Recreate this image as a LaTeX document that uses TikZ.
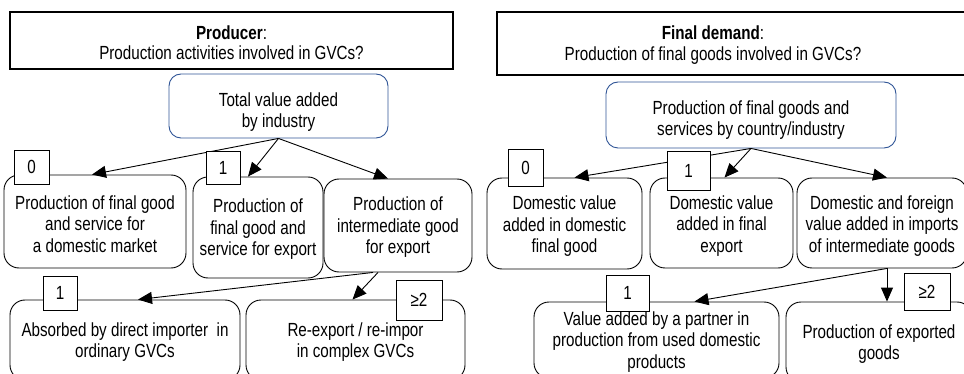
\documentclass[tikz,border=0pt]{standalone}
\usepackage{fontspec}
\setmainfont{Liberation Sans}[FakeStretch=0.8]
\usetikzlibrary{arrows.meta,calc}
\definecolor{rootblue}{RGB}{47,84,150}
\newcommand{\pushdown}[1]{\rule{0pt}{#1}}
\begin{document}
\begin{tikzpicture}[x=1pt,y=-1pt,
  font=\fontsize{19}{21.5}\selectfont,
  titlebox/.style={draw, line width=1.3pt, inner sep=0pt, align=center},
  mainbox/.style={draw, line width=0.9pt, rounded corners=15pt, align=center, inner sep=0pt},
  rootbox/.style={draw=rootblue, line width=0.9pt, rounded corners=12pt, align=center, inner sep=0pt},
  tagbox/.style={draw, fill=white, line width=0.9pt, inner sep=0pt},
  flow/.style={line width=0.9pt, -{Triangle[length=14pt,width=12pt]}}]
\useasboundingbox (0,0) rectangle (964,374);
\clip (0,0) rectangle (964,374);

% ---------- left panel ----------
\node[titlebox, minimum width=443pt, minimum height=57pt] (ptitle) at (231.5,40.5)
  {\pushdown{17.5pt}\textbf{Producer}:\\[-1.5pt]Production activities involved in GVCs?};
\node[rootbox, minimum width=219pt, minimum height=64pt] (tva) at (278.5,106)
  {\pushdown{25.5pt}Total value added\\by industry};
\node[mainbox, minimum width=182pt, minimum height=93pt] (pdom) at (95,221.5)
  {\pushdown{18.5pt}Production of final good\\and service for\\a domestic market};
\node[mainbox, minimum width=130pt, minimum height=101pt] (pexp) at (258,227.5)
  {\pushdown{17.5pt}Production of\\final good and\\service for export};
\node[mainbox, minimum width=148pt, minimum height=93pt] (pint) at (398,225.5)
  {\pushdown{17.5pt}Production of\\intermediate good\\for export};
\node[mainbox, minimum width=230pt, minimum height=80pt] (pabs) at (125,340)
  {\pushdown{17.5pt}Absorbed by direct importer\ \ in\\ordinary GVCs};
\node[mainbox, minimum width=219pt, minimum height=80pt] (prex) at (355.5,340)
  {\pushdown{17.5pt}Re-export / re-impor\\in complex GVCs};

\draw[flow] (tva.south) -- ([xshift=-3pt]pdom.north);
\draw[flow] (tva.south) -- ([xshift=-10pt]pexp.north);
\draw[flow] (tva.south) -- ([xshift=-10pt]pint.north);
\draw[flow] ([xshift=-25pt]pint.south) -- ([xshift=13pt]pabs.north);
\draw[flow] ([xshift=-20pt]pint.south) -- ([xshift=-3pt]prex.north);

\node[tagbox, minimum width=35pt, minimum height=34pt] (t0) at (31.5,167) {0};
\node[tagbox, minimum width=34pt, minimum height=33pt] (t1) at (223,167.5) {1};
\node[tagbox, minimum width=34pt, minimum height=34pt] (t1b) at (60,293) {1};
\node[tagbox, minimum width=46pt, minimum height=40pt] (t2) at (419,300) {≥2};

% ---------- right panel ----------
\node[titlebox, minimum width=483pt, minimum height=63pt] (dtitle) at (738.5,43.5) {};
\node[align=center, inner sep=0pt] (dtitletext) at (713,45)
  {\textbf{Final demand}:\\Production of final goods involved in GVCs?};
\node[rootbox, minimum width=290pt, minimum height=66pt] (dprod) at (751,115)
  {\pushdown{23.5pt}Production of final goods and\\services by country/industry};
\node[mainbox, minimum width=155pt, minimum height=91pt] (ddom) at (564.5,223.5)
  {\pushdown{19.5pt}Domestic value\\added in domestic\\final good};
\node[mainbox, minimum width=143pt, minimum height=90pt] (dexp) at (721.5,223)
  {\pushdown{19.5pt}Domestic value\\added in final\\export};
\node[mainbox, minimum width=170pt, minimum height=90pt] (dint) at (882,223)
  {\pushdown{19.5pt}Domestic and foreign\\value added in imports\\of intermediate goods};
\node[mainbox, minimum width=245pt, minimum height=76pt] (dpart) at (656.5,340)
  {\pushdown{17.5pt}Value added by a partner in\\production from used domestic\\products};
\node[mainbox, minimum width=186pt, minimum height=80pt] (dexpd) at (879,342)
  {\pushdown{17.5pt}Production of exported\\goods};

\draw[flow] (dprod.south) -- ([xshift=10pt]ddom.north);
\draw[flow] (dprod.south) -- ([xshift=3pt]dexp.north);
\draw[flow] (dprod.south) -- ([xshift=5pt]dint.north);
\draw[flow] ([xshift=5pt]dint.south) -- ([xshift=8pt]dexpd.north);
\draw[flow] ([xshift=5pt]dint.south) -- ([xshift=38pt]dpart.north);

\node[tagbox, minimum width=35pt, minimum height=37pt] (r0) at (525.5,167.5) {0};
\node[tagbox, minimum width=43pt, minimum height=39pt] (r1) at (688.5,170.5) {1};
\node[tagbox, minimum width=43pt, minimum height=36pt] (r1b) at (627.5,293) {1};
\node[tagbox, minimum width=46pt, minimum height=37pt] (r2) at (927,291.5) {≥2};
\end{tikzpicture}
\end{document}
